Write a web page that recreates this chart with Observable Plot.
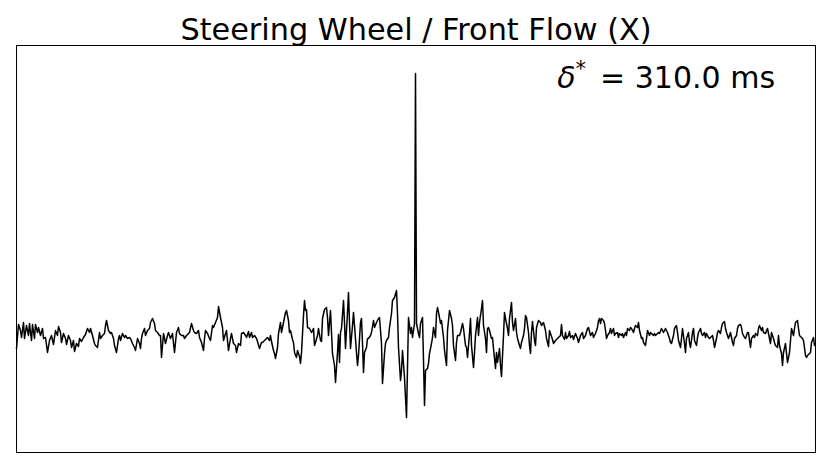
<!DOCTYPE html>
<html><head><meta charset="utf-8">
<script src="https://cdn.jsdelivr.net/npm/d3@7"></script>
<script src="https://cdn.jsdelivr.net/npm/@observablehq/plot@0.6"></script>
<style>html,body{margin:0;padding:0;background:#fff} svg{display:block}</style>
</head><body><div id="chart"></div>
<script>
const title = "Steering Wheel / Front Flow (X)";
const annotSymbol = "δ";
const annotSup = "*";
const annotText = "= 310.0 ms";

// lag (samples) and cross-correlation (arbitrary units)
const lags = [
-400,-398,-396,-395,-393,-392,-390,-388,-387,-385,-384,-382,-381,-379,-378,-376,-374,-373,-371,-369,-367,-365,-363,-361,-359,-358,-356,-355,-353,-351,-350,-348,-346,-345,-343,-342,-340,-338,-337,-335,-333,-331,
-329,-327,-326,-324,-322,-321,-319,-317,-316,-314,-312,-311,-310,-308,-306,-305,-303,-302,-300,-298,-297,-296,-294,-292,-291,-289,-287,-286,-284,-282,-281,-279,-277,-276,-275,-274,-272,-271,-269,-267,-266,-264,-262,-261,-259,-257,
-256,-255,-253,-251,-249,-248,-246,-244,-242,-240,-238,-237,-235,-233,-232,-230,-228,-227,-225,-223,-222,-220,-218,-217,-215,-213,-212,-211,-209,-207,-206,-204,-203,-201,-199,-198,-196,-194,-193,-191,-190,-188,-186,-185,-183,
-181,-180,-178,-176,-175,-173,-171,-170,-168,-167,-165,-164,-162,-160,-159,-157,-155,-154,-152,-150,-149,-147,-146,-145,-143,-142,-141,-139,-138,-136,-135,-133,-131,-130,-128,-127,-126,-124,-123,-122,-120,-119,-117,-116,-115,-113,-112,-111,
-110,-109,-107,-106,-105,-103,-102,-101,-99,-98,-96,-95,-94,-92,-90,-89,-88,-86,-85,-84,-82,-81,-79,-78,-77,-76,-75,-73,-72,-71,-69,-68,-67,-66,-64,-63,-62,-60,-59,-58,-56,-55,-54,-53,-52,-50,-49,-48,-46,-45,-43,-42,-40,-38,
-37,-35,-34,-32,-31,-30,-28,-27,-25,-24,-22,-20,-19,-18,-16,-15,-14,-12,-10,-9,-8,-6,-5,-4,-2,-1,0,2,3,4,6,7,8,9,11,12,13,15,16,17,19,20,21,23,24,25,27,28,30,31,33,35,
36,37,39,40,41,43,44,46,47,49,50,51,53,54,55,57,58,59,61,62,63,65,66,67,69,70,71,72,73,75,76,77,79,80,81,83,84,85,87,88,89,91,92,93,95,96,97,99,100,101,103,104,105,107,108,
109,110,112,113,114,115,116,118,119,120,122,124,125,127,129,130,132,133,134,136,137,139,141,142,144,145,146,148,149,150,152,153,154,156,157,159,161,162,164,166,167,169,171,172,174,176,177,179,181,
182,183,184,185,187,188,189,190,191,193,194,195,197,198,199,201,202,203,205,206,207,209,210,211,213,214,215,217,218,219,221,222,223,225,226,227,229,230,231,233,234,235,237,238,239,241,242,243,245,246,247,249,250,251,253,254,
255,257,258,260,261,262,264,265,266,268,269,270,272,273,274,276,277,278,280,281,282,284,285,286,288,289,290,292,293,294,296,297,298,300,301,302,304,305,306,308,309,310,312,313,314,316,317,318,320,321,322,324,325,326,
328,329,331,332,333,334,335,337,338,339,341,342,343,345,346,347,349,350,351,353,354,355,357,358,359,361,362,363,365,366,367,369,370,371,373,374,375,377,378,379,381,382,383,385,386,387,389,390,391,393,394,395,397,398
];
const corr = [
-8,16,10,3,18,2,15,5,17,0,16,2,16,8,13,5,12,2,3,-12,0,5,-4,10,5,14,8,-2,7,2,-4,5,0,-7,0,-11,-3,-6,2,-1,3,6,
12,8,12,5,-3,-5,-7,8,2,5,7,15,20,10,7,8,2,-5,-12,2,5,0,7,3,5,2,3,2,-3,-7,-10,2,-3,-8,2,7,12,5,10,12,18,22,17,10,8,5,
5,-17,7,-3,5,8,2,7,-12,8,13,7,5,5,2,5,7,8,17,10,8,7,10,3,-2,-10,2,10,7,2,0,15,13,18,23,34,23,13,0,7,10,-10,2,7,-3,
-5,-12,-3,-5,7,8,5,3,9,3,8,3,5,2,-1,-8,-2,-2,0,2,3,0,5,-1,-10,-13,-18,-7,7,18,8,18,28,30,20,8,10,1,-2,-12,-17,-10,-16,-23,-12,25,40,30,
31,13,12,10,8,12,-5,-2,5,12,0,-1,22,31,33,23,5,30,8,-13,-25,-42,-12,6,-22,8,12,40,18,-8,28,48,18,-8,15,28,15,-12,-25,-15,18,22,-3,-32,-12,-7,2,2,5,8,20,13,18,22,
23,-3,-43,-13,-3,0,3,13,27,40,43,50,27,-7,-40,-30,-10,-37,-77,-27,23,7,13,3,17,267,17,7,3,17,23,-20,-65,-30,-28,-23,-13,-3,3,13,3,27,33,23,17,20,3,-10,-25,10,30,22,
15,-5,-20,-2,5,5,8,17,12,-5,-7,-17,7,22,-5,-27,-12,5,23,5,18,32,40,15,2,-12,12,13,10,2,3,-8,-28,-12,-22,-8,-25,-36,5,28,22,12,5,22,38,18,10,22,8,2,-5,-8,-2,5,12,
25,23,8,-5,-13,8,19,0,-5,13,20,18,15,18,10,2,-6,10,7,1,-3,0,2,3,5,16,5,1,8,2,5,9,3,5,1,7,2,-2,5,8,2,5,12,13,5,8,3,7,13,
20,22,17,22,20,17,10,2,5,8,12,7,12,5,7,8,3,7,5,7,3,8,5,12,10,13,12,8,12,15,13,18,10,2,3,-2,-5,2,10,5,8,7,5,7,5,7,8,7,12,10,8,12,10,8,2,-2,
-3,5,12,15,8,0,-7,2,12,-3,-12,2,8,-2,-7,8,12,0,-5,3,8,12,7,5,8,3,7,3,2,3,5,0,-7,2,8,10,7,13,17,19,12,8,2,5,8,-2,-5,2,5,12,15,16,13,7,
3,2,8,8,0,-7,2,5,3,7,5,12,15,10,13,8,7,10,12,2,-3,8,2,-2,-5,-7,5,-5,-13,-25,-12,-3,-13,-22,-12,0,12,5,12,18,20,12,5,3,2,0,-15,-17,-15,-13,-12,-2,3,-5
];
const lagDomain = [-400, 399];
const corrDomain = [-112, 295];

if (lags.length !== corr.length) console.error("length mismatch", lags.length, corr.length);
const data = lags.map((lag, i) => ({lag, corr: corr[i]}));

const W = 831, H = 467, mL = 16, mR = 16, mT = 45, mB = 15;
const plot = Plot.plot({
  width: W, height: H,
  marginLeft: mL, marginRight: mR, marginTop: mT, marginBottom: mB,
  style: {fontFamily: "DejaVu Sans", background: "white", overflow: "visible"},
  x: {domain: lagDomain, axis: null},
  y: {domain: corrDomain, axis: null},
  marks: [
    Plot.line(data, {x: "lag", y: "corr", stroke: "black", strokeWidth: 1.5}),
    Plot.frame({stroke: "black", strokeWidth: 1}),
    Plot.text([title], {frameAnchor: "top", dy: -6, lineAnchor: "bottom", fontSize: 30.3, fill: "black", text: d => d})
  ]
});
document.getElementById("chart").appendChild(plot);

const svg = d3.select(plot);
const ax = mL + 0.95 * (W - mL - mR);
const ay = mT + 43;
const t = svg.append("text")
  .attr("x", ax).attr("y", ay)
  .attr("text-anchor", "end")
  .attr("font-family", "DejaVu Sans")
  .attr("font-size", 30)
  .attr("fill", "black")
  .style("white-space", "pre");
t.append("tspan").attr("font-style", "italic").text(annotSymbol);
t.append("tspan").attr("font-size", 21).attr("dy", -12).text(annotSup);
t.append("tspan").attr("dy", 12).attr("dx", 14).text(annotText);
</script>
</body></html>
